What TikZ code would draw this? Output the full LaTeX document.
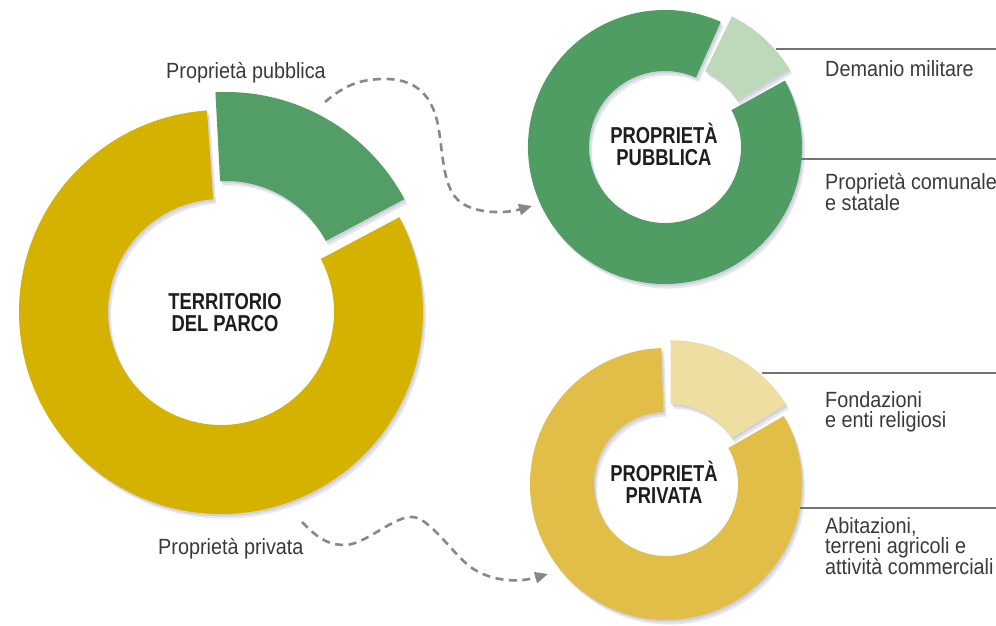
\documentclass[tikz,border=0pt]{standalone}
\usepackage{fontspec}
\setmainfont{Liberation Sans}
\newfontfamily\lblfont{Liberation Sans}[FakeStretch=0.9]
\newfontfamily\ttlfont{Liberation Sans}[FakeStretch=0.8]
\usetikzlibrary{arrows.meta}
\definecolor{bigyellow}{RGB}{214,178,0}
\definecolor{biggreen}{RGB}{82,158,102}
\definecolor{smgreen}{RGB}{80,157,100}
\definecolor{ltgreen}{RGB}{190,217,186}
\definecolor{smyellow}{RGB}{224,190,72}
\definecolor{ltyellow}{RGB}{238,222,162}
\definecolor{txtgray}{RGB}{58,58,58}
\definecolor{ttlcol}{RGB}{30,30,30}
\definecolor{leadgray}{RGB}{115,115,115}
\definecolor{dashgray}{RGB}{135,135,142}
\definecolor{shadowcol}{RGB}{100,100,150}
\newcommand{\donutseg}[7]{\fill[#7] (#1,#2) ++(#3:#5) arc[start angle=#3,end angle=#4,radius=#5] -- ([shift={(#1,#2)}]#4:#6) arc[start angle=#4,end angle=#3,radius=#6] -- cycle;}
\newcommand{\alldonuts}[6]{%
  \donutseg{221}{313}{94}{388}{202}{113}{#1}
  \donutseg{226}{331}{28}{93}{202}{113}{#2}
  \donutseg{665}{478}{66}{389}{137}{76}{#3}
  \donutseg{671.8}{485.4}{31}{64}{137}{76}{#4}
  \donutseg{666}{141}{92}{390}{136}{72}{#5}
  \donutseg{670.5}{148.8}{32}{90}{136}{72}{#6}}
\begin{document}
\begin{tikzpicture}[x=1pt,y=1pt,
  lbl/.style={inner sep=0pt, text=txtgray, font=\lblfont\fontsize{22}{20}\selectfont},
  ttl/.style={inner sep=0pt, text=ttlcol, align=center, font=\ttlfont\bfseries\fontsize{23}{22}\selectfont},
  leader/.style={leadgray, line width=1.4pt},
  conn/.style={dashgray, line width=2.6pt, dash pattern=on 8pt off 5.5pt, -{Triangle[length=13pt,width=11pt]}}]
\useasboundingbox (0,0) rectangle (996,625);
\fill[white] (0,0) rectangle (996,625);
% soft shadows
\begin{scope}[shift={(3,-4.5)}, opacity=0.16]
  \alldonuts{shadowcol}{shadowcol}{shadowcol}{shadowcol}{shadowcol}{shadowcol}
\end{scope}
\begin{scope}[shift={(1.5,-2.2)}, opacity=0.16]
  \alldonuts{shadowcol}{shadowcol}{shadowcol}{shadowcol}{shadowcol}{shadowcol}
\end{scope}
% donuts
\alldonuts{bigyellow}{biggreen}{smgreen}{ltgreen}{smyellow}{ltyellow}
% titles
\node[ttl] (terr) at (225,312) {TERRITORIO\\DEL PARCO};
\node[ttl] (ppub) at (664,481) {PROPRIETÀ\\PUBBLICA};
\node[ttl] (ppriv) at (664,143) {PROPRIETÀ\\PRIVATA};
% labels
\node[lbl, anchor=base west] (pubL) at (166,546) {Proprietà pubblica};
\node[lbl, anchor=base west] (privL) at (158,71) {Proprietà privata};
\node[lbl, anchor=base west] (demanio) at (825,548) {Demanio militare};
\node[lbl, anchor=north west, align=left] (comunale) at (825,452) {Proprietà comunale\\e statale};
\node[lbl, anchor=north west, align=left] (fondaz) at (825,234) {Fondazioni\\e enti religiosi};
\node[lbl, anchor=north west, align=left] (abitaz) at (825,108) {Abitazioni,\\terreni agricoli e\\attività commerciali};
% leader lines
\coordinate (l1a) at (776,576); \coordinate (l1b) at (996,576);
\coordinate (l2a) at (801,466); \coordinate (l2b) at (996,466);
\coordinate (l3a) at (762,252); \coordinate (l3b) at (996,252);
\coordinate (l4a) at (800,117); \coordinate (l4b) at (996,117);
\draw[leader] (l1a) -- (l1b);
\draw[leader] (l2a) -- (l2b);
\draw[leader] (l3a) -- (l3b);
\draw[leader] (l4a) -- (l4b);
% dashed connectors
\coordinate (a1s) at (325,523); \coordinate (a1e) at (532,419);
\draw[conn] (a1s) .. controls (345,540) and (360,546) .. (385,546) .. controls (420,546) and (433,525) .. (438,500) .. controls (443,475) and (442,440) .. (458,425) .. controls (470,413) and (500,410) .. (a1e);
\coordinate (a2s) at (302,103); \coordinate (a2e) at (548,51);
\draw[conn] (a2s) .. controls (315,90) and (325,80) .. (345,80) .. controls (365,80) and (395,110) .. (413,108) .. controls (430,106) and (450,75) .. (468,60) .. controls (482,48) and (510,40) .. (a2e);
\end{tikzpicture}
\end{document}
